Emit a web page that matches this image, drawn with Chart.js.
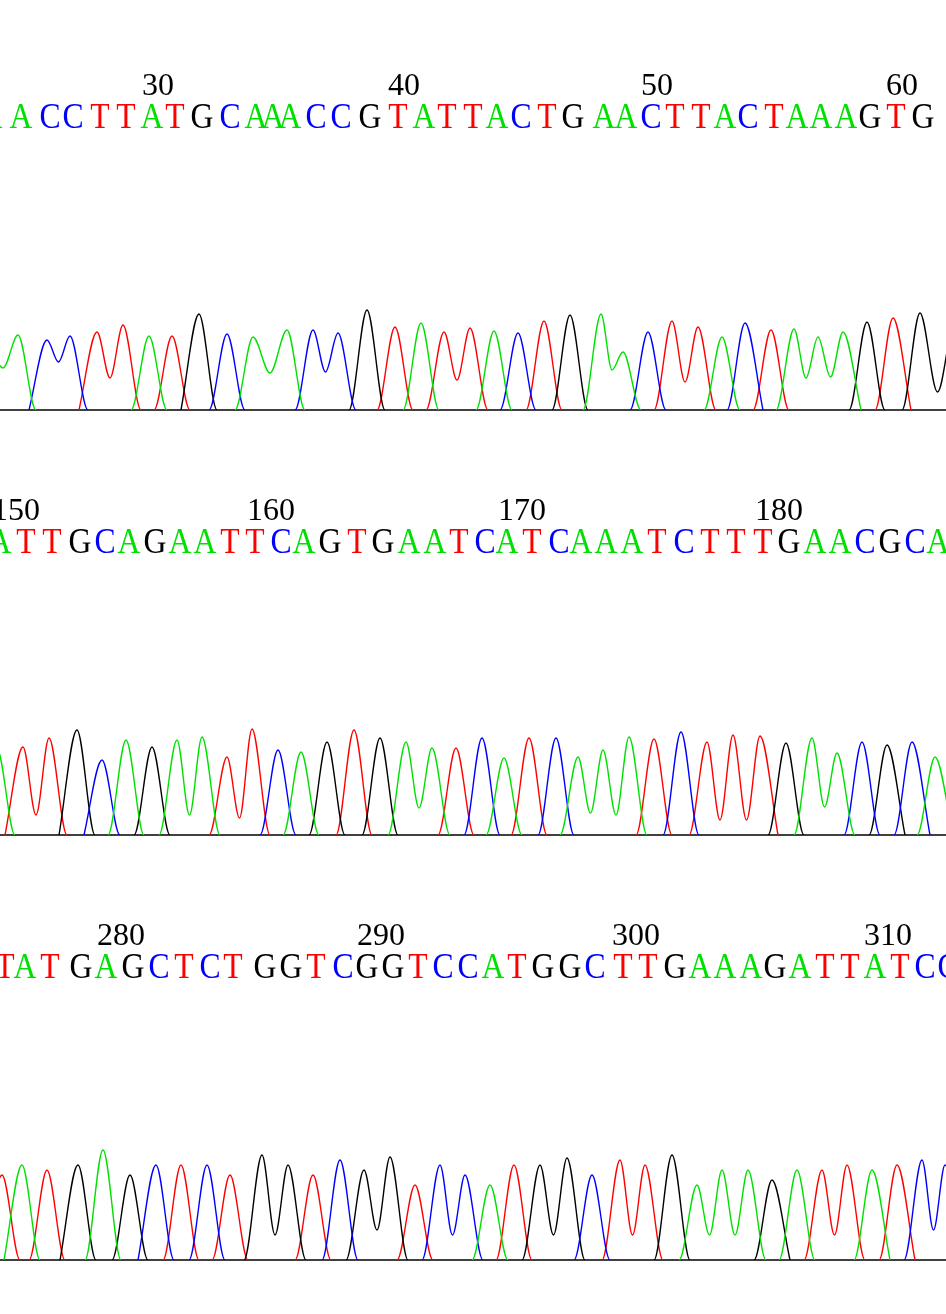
<!DOCTYPE html>
<html>
<head>
<meta charset="utf-8">
<script src="https://cdn.jsdelivr.net/npm/chart.js@4.4.1/dist/chart.umd.min.js"></script>
<style>
  html, body { margin: 0; padding: 0; background: #fff; }
  canvas { display: block; }
</style>
</head>
<body>
<canvas id="p1" width="946" height="425"></canvas>
<canvas id="p2" width="946" height="425"></canvas>
<canvas id="p3" width="946" height="425"></canvas>
<script>
/* ─── Data: base calls, peak locations (scan units), peak heights ─── */
const bases1  = 'AACCTTATGCAAACCGTATTACTGAACTTACTAAAGTGG';
const first1  = 24;
const pos1    = [-12, 18, 47, 70, 97, 123, 149, 172, 199, 227,
                 253, 270, 287, 313, 338, 367, 395, 421, 444, 470,
                 494, 518, 544, 570, 601, 623, 648, 672, 698, 722,
                 745, 771, 794, 818, 843, 867, 893, 920, 955];
const height1 = [60, 75, 70, 74, 78, 85, 74, 74, 96, 76,
                 73, 0, 80, 80, 77, 100, 83, 87, 78, 82,
                 79, 77, 89, 95, 96, 58, 78, 89, 83, 73,
                 87, 80, 81, 73, 78, 88, 92, 97, 90];
// [base number, valley height down to the next peak of the same dye]
const dips1   = [[24, 42], [26, 48], [28, 32], [34, 37], [37, 38], [42, 30],
                 [48, 40], [51, 28], [56, 32], [57, 33], [61, 18]];
const numbers1 = [30, 40, 50, 60];

const bases2  = 'ATTGCAGAATTCAGTGAATCATCAAATCTTTGAACGCA';
const first2  = 149;
const pos2    = [-3, 23, 49, 77, 102, 126, 152, 177, 202, 227,
                 252, 278, 301, 327, 354, 380, 406, 432, 456, 482,
                 504, 529, 556, 578, 603, 629, 654, 681, 707, 733,
                 760, 786, 812, 837, 862, 887, 912, 935];
const height2 = [86, 88, 97, 105, 75, 95, 88, 95, 98, 78,
                 106, 85, 83, 93, 105, 97, 93, 87, 87, 97,
                 77, 97, 97, 78, 85, 98, 96, 103, 93, 100,
                 99, 92, 97, 82, 93, 90, 93, 78];
const dips2   = [[150, 20], [156, 20], [158, 17], [165, 27], [172, 22],
                 [173, 20], [177, 15], [178, 15], [181, 28]];
const numbers2 = [150, 160, 170, 180];

const bases3  = 'TATGAGCTCTGGTCGGTCCATGGCTTGAAAGATTATCC';
const first3  = 275;
const pos3    = [2, 22, 47, 78, 103, 130, 156, 181, 207, 230,
                 262, 288, 313, 340, 364, 390, 415, 440, 465, 490,
                 514, 540, 567, 592, 620, 645, 672, 697, 722, 748,
                 772, 797, 822, 847, 872, 897, 922, 945];
const height3 = [85, 95, 90, 95, 110, 85, 95, 95, 95, 85,
                 105, 95, 85, 100, 90, 103, 75, 95, 85, 75,
                 95, 95, 102, 85, 100, 95, 105, 75, 90, 90,
                 80, 90, 90, 95, 90, 95, 100, 95];
const dips3   = [[285, 25], [289, 30], [292, 25], [296, 25], [299, 25],
                 [302, 25], [303, 25], [307, 25], [311, 30]];
const numbers3 = [280, 290, 300, 310];

/* ─── Style ─────────────────────────────────────────── */
const DYES = ['A', 'C', 'G', 'T'];
const COLORS = { A: '#00e000', C: '#0000ff', G: '#000000', T: '#ff0000' };
const HALF = 18;           // half foot width of a peak, scan units
const SERIF = "'Liberation Serif', 'Times New Roman', serif";

/* ─── Build one dye trace: feet, peaks and valleys ──── */
function dyePoints(bases, pos, height, dips, first, dye) {
  const dipMap = new Map(dips);
  const idx = [];
  for (let i = 0; i < bases.length; i++) if (bases[i] === dye && height[i] > 0) idx.push(i);
  const pts = [];
  idx.forEach((i, k) => {
    const prev = k ? idx[k - 1] : null;
    const next = k < idx.length - 1 ? idx[k + 1] : null;
    const joined = prev !== null && (dipMap.has(first + prev) || pos[i] - pos[prev] < 2 * HALF);
    if (!joined) pts.push({ x: pos[i] - HALF, y: 0 });
    pts.push({ x: pos[i], y: height[i] });
    if (next === null) pts.push({ x: pos[i] + HALF, y: 0 });
    else if (dipMap.has(first + i)) pts.push({ x: (pos[i] + pos[next]) / 2, y: dipMap.get(first + i) });
    else if (pos[next] - pos[i] < 2 * HALF) pts.push({ x: (pos[i] + pos[next]) / 2, y: 0 });
    else pts.push({ x: pos[i] + HALF, y: 0 });
  });
  return pts;
}

/* ─── Sequence row + position numbers + baseline ────── */
function sequencePlugin(p) {
  return {
    id: 'sequence',
    beforeDatasetsDraw(chart) {
      const { ctx, chartArea, scales } = chart;
      const y0 = scales.y.getPixelForValue(0);
      ctx.save();
      ctx.strokeStyle = '#000';
      ctx.lineWidth = 1.5;
      ctx.beginPath();
      ctx.moveTo(chartArea.left, y0);
      ctx.lineTo(chartArea.right, y0);
      ctx.stroke();
      ctx.restore();
    },
    afterDraw(chart) {
      const { ctx, scales } = chart;
      ctx.save();
      ctx.textAlign = 'center';
      ctx.textBaseline = 'alphabetic';
      ctx.font = '32px ' + SERIF;
      ctx.fillStyle = '#000';
      p.numbers.forEach(n => {
        const x = scales.x.getPixelForValue(p.pos[n - p.first]) + p.numShift;
        ctx.fillText(String(n), x, 95);
      });
      ctx.font = '36px ' + SERIF;
      [...p.bases].forEach((b, i) => {
        const x = scales.x.getPixelForValue(p.pos[i]) + 3;
        ctx.save();
        ctx.translate(x, 128);
        ctx.scale(0.88, 1);
        ctx.fillStyle = COLORS[b];
        ctx.fillText(b, 0, 0);
        ctx.restore();
      });
      ctx.restore();
    }
  };
}

const panels = [
  { id: 'p1', bases: bases1, first: first1, pos: pos1, height: height1, dips: dips1, numbers: numbers1, numShift: 9 },
  { id: 'p2', bases: bases2, first: first2, pos: pos2, height: height2, dips: dips2, numbers: numbers2, numShift: -7 },
  { id: 'p3', bases: bases3, first: first3, pos: pos3, height: height3, dips: dips3, numbers: numbers3, numShift: -9 },
];

panels.forEach(p => {
  new Chart(document.getElementById(p.id), {
    type: 'line',
    data: {
      datasets: DYES.map(d => ({
        label: d,
        data: dyePoints(p.bases, p.pos, p.height, p.dips, p.first, d),
        borderColor: COLORS[d],
        borderWidth: 1.4,
        pointRadius: 0,
        fill: false,
        cubicInterpolationMode: 'monotone',
        segment: {
          borderColor: c => (c.p0.parsed.y === 0 && c.p1.parsed.y === 0) ? 'rgba(0,0,0,0)' : undefined
        }
      }))
    },
    options: {
      responsive: false,
      animation: false,
      devicePixelRatio: 1,
      layout: { padding: { top: 0, bottom: 15, left: 0, right: 0 } },
      plugins: { legend: { display: false }, tooltip: { enabled: false } },
      scales: {
        x: { type: 'linear', display: false, min: 0, max: 946 },
        y: { display: false, min: 0, max: 410 }
      }
    },
    plugins: [sequencePlugin(p)]
  });
});
</script>
</body>
</html>
